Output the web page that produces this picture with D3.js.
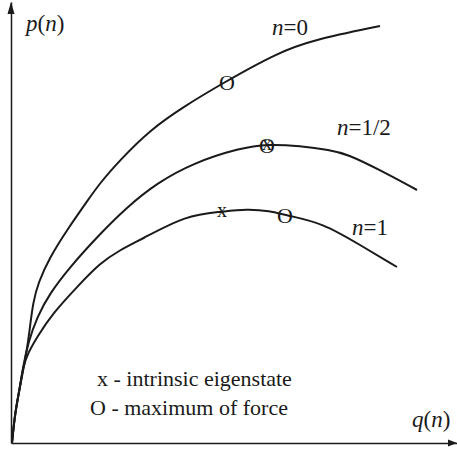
<!DOCTYPE html>
<html>
<head>
<meta charset="utf-8">
<script src="https://cdn.jsdelivr.net/npm/d3@7"></script>
<style>
body { margin: 0; background: #fff; }
text { font-family: "Liberation Serif", "Times New Roman", serif; fill: #1a1a1a; }
</style>
</head>
<body>
<script>
// curve values (arbitrary units, no ticks on the axes)
var q0 = [1, 4, 9, 16, 19, 22, 27, 39, 56, 77, 89, 109, 139, 172, 212, 266, 302, 369];
var p0 = [0, 30, 56, 93, 116, 140, 160, 186, 213, 243, 260, 283, 313, 336, 360, 390, 403, 417];

var qHalf = [1, 4, 9, 12, 17, 26, 39, 59, 86, 116, 146, 182, 229, 257, 289, 319, 336, 369, 406];
var pHalf = [0, 30, 56, 76, 100, 126, 150, 176, 206, 236, 260, 280, 295, 299, 297, 293, 289, 273, 253];

var q1 = [1, 4, 9, 12, 17, 26, 42, 66, 89, 109, 129, 176, 209, 236, 259, 274, 312, 349, 386];
var p1 = [0, 30, 56, 76, 90, 106, 130, 156, 180, 193, 203, 228, 231, 234, 232, 228, 220, 198, 176];

// markers: x = intrinsic eigenstate, O = maximum of force
var markSym = ["O", "x", "O", "x", "O"];
var markQ = [216, 256, 256, 211, 274];
var markP = [361, 298, 298, 231, 228];

// curve labels
var labelN = ["0", "1/2", "1"];
var labelQ = [261, 326, 341];
var labelP = [408, 308, 208];

var w = 457;
var h = 451;

var x = d3.scaleLinear().domain([0, 446]).range([11, 457]);
var y = d3.scaleLinear().domain([0, 441]).range([443, 2]);

var svg = d3.select("body")
        .append("svg")
        .attr("width", w)
        .attr("height", h);

// axes: plain lines, no ticks
svg.append("g")
    .attr("transform", "translate(0," + y(0) + ")")
    .call(d3.axisBottom(x).tickValues([]).tickSizeOuter(0))
    .select(".domain").attr("stroke", "#1a1a1a").attr("stroke-width", 1.5);
svg.append("g")
    .attr("transform", "translate(" + x(0) + ",0)")
    .call(d3.axisLeft(y).tickValues([]).tickSizeOuter(0))
    .select(".domain").attr("stroke", "#1a1a1a").attr("stroke-width", 1.5);

// arrow heads
var tx = x(446), ty = y(0);
svg.append("path")
    .attr("d", "M" + tx + "," + ty + "L" + (tx - 9) + "," + (ty - 3.5) + "L" + (tx - 9) + "," + (ty + 3.5) + "Z")
    .attr("fill", "#1a1a1a");
var ax = x(0), ay = y(441);
svg.append("path")
    .attr("d", "M" + ax + "," + ay + "L" + (ax - 3.5) + "," + (ay + 12) + "L" + (ax + 3.5) + "," + (ay + 12) + "Z")
    .attr("fill", "#1a1a1a");

var line = d3.line()
    .x(function(d) { return x(d[0]); })
    .y(function(d) { return y(d[1]); })
    .curve(d3.curveBasis);

var series = [[q0, p0], [qHalf, pHalf], [q1, p1]];
svg.selectAll("path.curve")
    .data(series)
    .enter()
    .append("path")
    .attr("class", "curve")
    .attr("d", function(s) { return line(d3.zip(s[0], s[1])); })
    .attr("fill", "none")
    .attr("stroke", "#1a1a1a")
    .attr("stroke-width", 2);

svg.selectAll("text.mark")
    .data(markSym)
    .enter()
    .append("text")
    .attr("class", "mark")
    .attr("x", function(d, i) { return x(markQ[i]); })
    .attr("y", function(d, i) { return y(markP[i]); })
    .attr("text-anchor", "middle")
    .attr("dy", function(d) { return d == "O" ? "0.35em" : "0.25em"; })
    .attr("font-size", function(d) { return d == "O" ? 22 : 20; })
    .text(function(d) { return d; });

// n = ... labels
var lab = svg.selectAll("text.lab")
    .data(labelN)
    .enter()
    .append("text")
    .attr("class", "lab")
    .attr("x", function(d, i) { return x(labelQ[i]); })
    .attr("y", function(d, i) { return y(labelP[i]); })
    .attr("font-size", 23);
lab.append("tspan").attr("font-style", "italic").text("n");
lab.append("tspan").text(function(d) { return "=" + d; });

// axis titles
function fnLabel(px, py, letter) {
    var t = svg.append("text").attr("x", px).attr("y", py).attr("font-size", 23);
    t.append("tspan").attr("font-style", "italic").text(letter);
    t.append("tspan").text("(");
    t.append("tspan").attr("font-style", "italic").text("n");
    t.append("tspan").text(")");
}
fnLabel(x(15), y(412), "p");
fnLabel(x(401), y(16), "q");

// legend
svg.append("text").attr("x", 97).attr("y", 386).attr("font-size", 22)
    .text("x - intrinsic eigenstate");
svg.append("text").attr("x", 90).attr("y", 415).attr("font-size", 22)
    .text("O - maximum of force");
</script>
</body>
</html>
